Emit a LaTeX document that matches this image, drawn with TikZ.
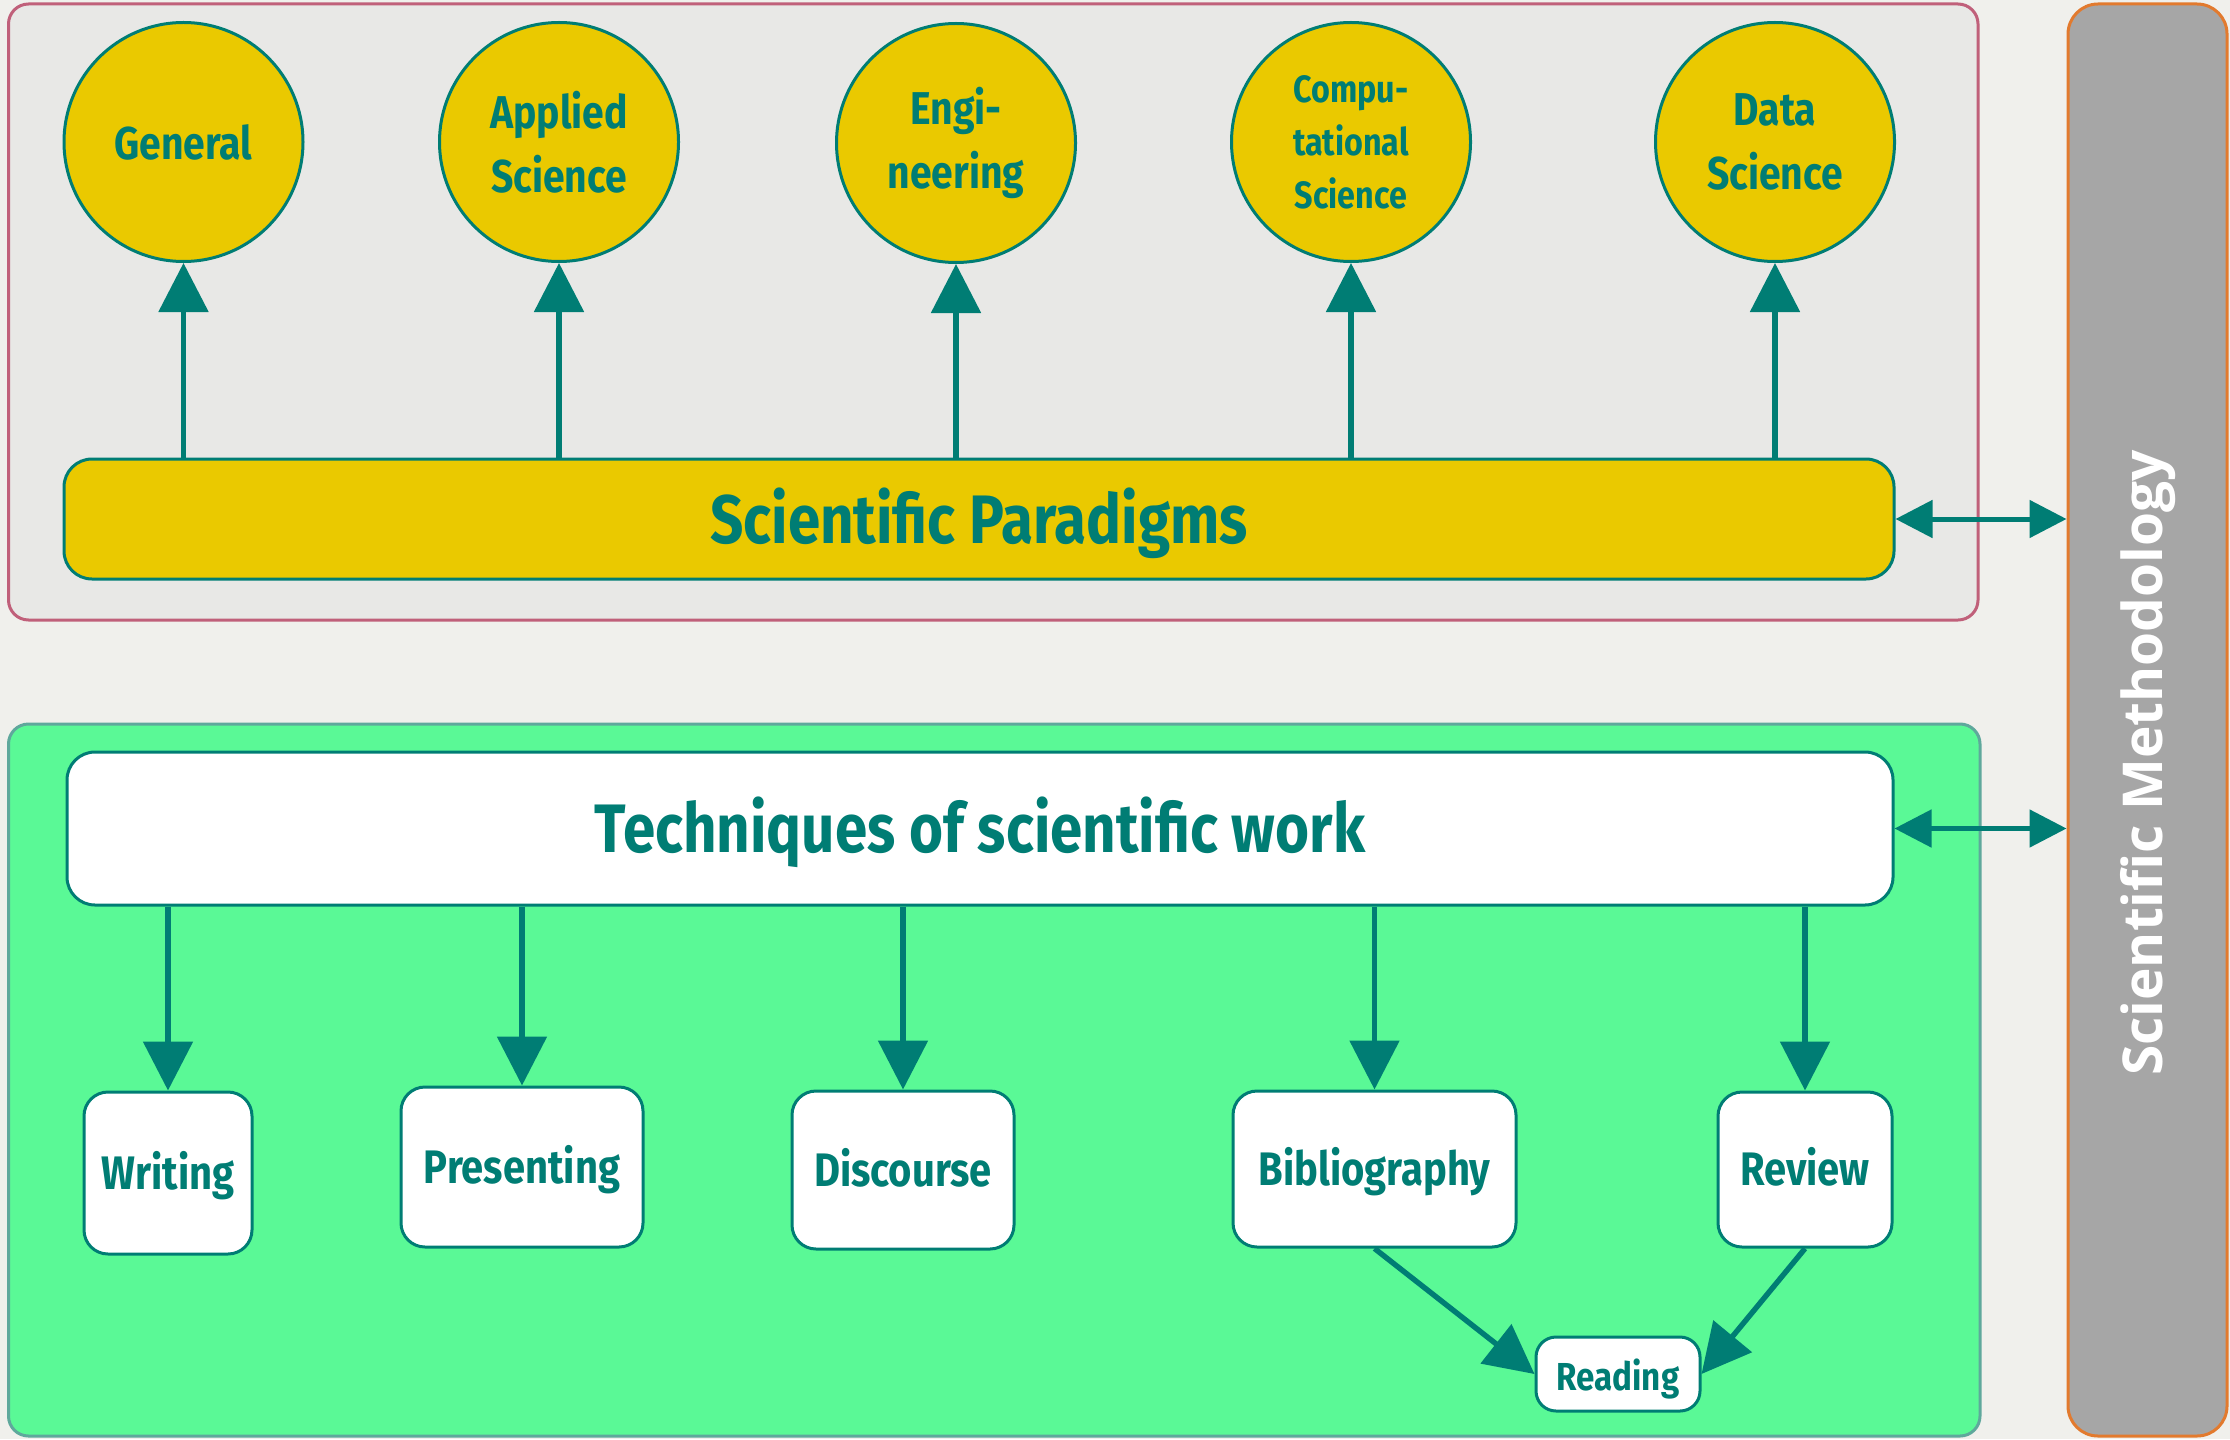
\documentclass[tikz,border=0pt]{standalone}
\usepackage{fontspec}
\usetikzlibrary{arrows.meta}
\newfontfamily\labfont[FakeStretch=0.85]{Fira Sans}
\newfontfamily\methfont{Open Sans}
\definecolor{tealc}{HTML}{007D74}
\definecolor{yel}{HTML}{EAC900}
\definecolor{bgc}{HTML}{F0F0EC}
\definecolor{topfill}{HTML}{E8E8E6}
\definecolor{topline}{HTML}{C0607A}
\definecolor{grn}{HTML}{5AF996}
\definecolor{grnline}{HTML}{5FA89C}
\definecolor{greyc}{HTML}{A6A6A6}
\definecolor{orng}{HTML}{E27A2E}
\tikzset{
  circnode/.style={circle, draw=tealc, line width=1.5pt, fill=yel, minimum size=119.5pt, inner sep=0pt, text=tealc, align=center, font=\labfont\bfseries\fontsize{23}{32}\selectfont},
  barnode/.style={rectangle, rounded corners=14pt, draw=tealc, line width=1.5pt, text=tealc, text height=31pt, text depth=7pt, font=\labfont\bfseries\fontsize{34.3}{40}\selectfont},
  boxnode/.style={rectangle, rounded corners=12pt, draw=tealc, line width=1.5pt, fill=white, text=tealc, text height=21pt, text depth=5pt, font=\labfont\bfseries\fontsize{23.5}{28}\selectfont, inner sep=0pt},
  arr/.style={draw=tealc, line width=2.7pt, -{Triangle[width=24.5pt,length=24.5pt]}},
  darr/.style={draw=tealc, line width=2.5pt, {Triangle[width=18.5pt,length=18.5pt]}-{Triangle[width=18.5pt,length=18.5pt]}},
}
\begin{document}
\begin{tikzpicture}[x=0.5pt,y=-0.5pt]
\useasboundingbox (0,0) rectangle (2230,1439);
\fill[bgc] (0,0) rectangle (2230,1439);
% containers
\draw[topline, fill=topfill, line width=1.5pt, rounded corners=10pt] (8.5,4) rectangle (1978,620);
\draw[grnline, fill=grn, line width=1.5pt, rounded corners=10pt] (8.5,724) rectangle (1980,1436);
% methodology bar
\node[rectangle, draw=orng, fill=greyc, line width=1.5pt, rounded corners=15pt, minimum width=79.5pt, minimum height=716pt, inner sep=0pt] (meth) at (2147.5,720) {};
\node[rotate=90, text=white, font=\methfont\bfseries\fontsize{27.5}{32}\selectfont] (methlab) at (2148,763) {Scientific Methodology};
% paradigms
\node[barnode, fill=yel, minimum width=915pt, minimum height=60pt] (para) at (979,519) {Scientific Paradigms};
\node[circnode] (gen) at (183.5,142) {General};
\node[circnode] (app) at (559,142) {Applied\\Science};
\node[circnode] (eng) at (956,143) {Engi-\\neering};
\node[circnode, font=\labfont\bfseries\fontsize{19}{26.5}\selectfont] (comp) at (1351,142) {Compu-\\tational\\Science};
\node[circnode] (data) at (1775,142) {Data\\Science};
\foreach \c in {gen,app,eng,comp,data}{
  \draw[arr] (para.north -| \c) -- (\c.south);
}
% techniques
\node[barnode, fill=white, minimum width=913pt, minimum height=76.5pt] (tech) at (980,828.5) {Techniques of scientific work};
\node[boxnode, minimum width=84pt, minimum height=81pt] (wri) at (168,1173) {Writing};
\node[boxnode, minimum width=121pt, minimum height=80pt] (pre) at (522,1167) {Presenting};
\node[boxnode, minimum width=111pt, minimum height=79pt] (dis) at (903,1170) {Discourse};
\node[boxnode, minimum width=141.5pt, minimum height=78pt] (bib) at (1374.5,1169) {Bibliography};
\node[boxnode, minimum width=87pt, minimum height=77.5pt] (rev) at (1805,1169.5) {Review};
\node[boxnode, rounded corners=10pt, minimum width=82pt, minimum height=37pt, text height=20pt, text depth=4pt, font=\labfont\bfseries\fontsize{19.5}{24}\selectfont] (rea) at (1618,1374) {Reading};
\foreach \c in {wri,pre,dis,bib,rev}{
  \draw[arr] (tech.south -| \c) -- (\c.north);
}
\draw[arr] (bib.south) -- (rea.west);
\draw[arr] (rev.south) -- (rea.east);
% double arrows
\draw[darr] (para.east) -- (meth.west |- para.east);
\draw[darr] (tech.east) -- (meth.west |- tech.east);
\end{tikzpicture}
\end{document}
